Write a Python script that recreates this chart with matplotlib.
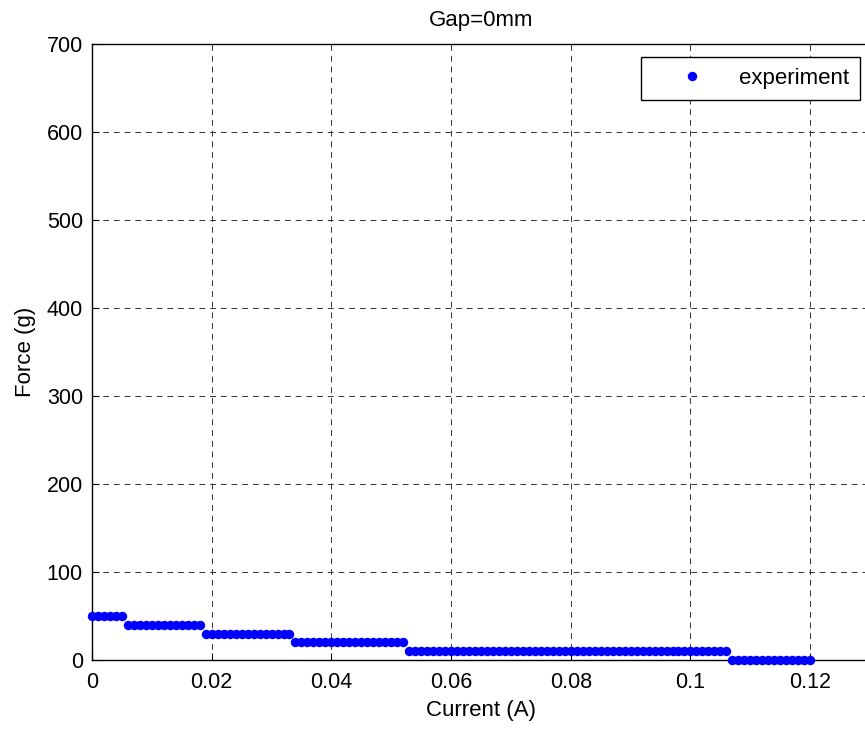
import numpy as np
import matplotlib
matplotlib.use("Agg")
from matplotlib import pyplot as plt

# measured current (A) and force (g), gap = 0 mm
current = [
    0.000, 0.001, 0.002, 0.003, 0.004, 0.005, 0.006, 0.007, 0.008, 0.009,
    0.010, 0.011, 0.012, 0.013, 0.014, 0.015, 0.016, 0.017, 0.018, 0.019,
    0.020, 0.021, 0.022, 0.023, 0.024, 0.025, 0.026, 0.027, 0.028, 0.029,
    0.030, 0.031, 0.032, 0.033, 0.034, 0.035, 0.036, 0.037, 0.038, 0.039,
    0.040, 0.041, 0.042, 0.043, 0.044, 0.045, 0.046, 0.047, 0.048, 0.049,
    0.050, 0.051, 0.052, 0.053, 0.054, 0.055, 0.056, 0.057, 0.058, 0.059,
    0.060, 0.061, 0.062, 0.063, 0.064, 0.065, 0.066, 0.067, 0.068, 0.069,
    0.070, 0.071, 0.072, 0.073, 0.074, 0.075, 0.076, 0.077, 0.078, 0.079,
    0.080, 0.081, 0.082, 0.083, 0.084, 0.085, 0.086, 0.087, 0.088, 0.089,
    0.090, 0.091, 0.092, 0.093, 0.094, 0.095, 0.096, 0.097, 0.098, 0.099,
    0.100, 0.101, 0.102, 0.103, 0.104, 0.105, 0.106, 0.107, 0.108, 0.109,
    0.110, 0.111, 0.112, 0.113, 0.114, 0.115, 0.116, 0.117, 0.118, 0.119,
    0.120,
]
force = [
    50, 50, 50, 50, 50, 50, 40, 40, 40, 40,
    40, 40, 40, 40, 40, 40, 40, 40, 40, 30,
    30, 30, 30, 30, 30, 30, 30, 30, 30, 30,
    30, 30, 30, 30, 20, 20, 20, 20, 20, 20,
    20, 20, 20, 20, 20, 20, 20, 20, 20, 20,
    20, 20, 20, 10, 10, 10, 10, 10, 10, 10,
    10, 10, 10, 10, 10, 10, 10, 10, 10, 10,
    10, 10, 10, 10, 10, 10, 10, 10, 10, 10,
    10, 10, 10, 10, 10, 10, 10, 10, 10, 10,
    10, 10, 10, 10, 10, 10, 10, 10, 10, 10,
    10, 10, 10, 10, 10, 10, 10, 0, 0, 0,
    0, 0, 0, 0, 0, 0, 0, 0, 0, 0,
    0,
]
x_ticks = [0, 0.02, 0.04, 0.06, 0.08, 0.1, 0.12]
x_tick_labels = ["0", "0.02", "0.04", "0.06", "0.08", "0.1", "0.12"]
y_ticks = [0, 100, 200, 300, 400, 500, 600, 700]

plt.rcParams['font.family'] = ['Liberation Sans', 'DejaVu Sans']

W, H = 865, 729
fig = plt.figure(figsize=(W / 100, H / 100), dpi=100)
# axes runs a little past the right edge, like the original export
ax = fig.add_axes([92 / W, 69 / H, 778 / W, 616 / H])

ax.plot(current, force, 'o', color='#0000ff', markersize=6.8, markeredgewidth=0,
        label='experiment', zorder=3, clip_on=False)

ax.set_xlim(0, 0.13)
ax.set_ylim(0, 700)
ax.set_xticks(x_ticks)
ax.set_xticklabels(x_tick_labels)
ax.set_yticks(y_ticks)
ax.tick_params(direction='in', length=5, labelsize=15.5, colors='black', pad=6.5)
ax.tick_params(axis='x', pad=8.5)
ax.grid(True, color='#333333', linestyle=(0, (6, 5)), linewidth=0.7)
for s in ax.spines.values():
    s.set_linewidth(1.0)

ax.set_title('Gap=0mm', fontsize=16, pad=13)
ax.set_xlabel('Current (A)', fontsize=16, labelpad=5)
ax.set_ylabel('Force (g)', fontsize=16, labelpad=8)

leg = ax.legend(loc='upper right', bbox_to_anchor=(860 / W, 1 - 57 / H),
                bbox_transform=fig.transFigure, borderaxespad=0,
                fancybox=False, framealpha=1, edgecolor='black',
                fontsize=16, handlelength=3.6, handletextpad=0.3,
                borderpad=0.5, markerscale=1.0)
leg.get_frame().set_linewidth(1.0)

fig.savefig('out.png', dpi=100)
